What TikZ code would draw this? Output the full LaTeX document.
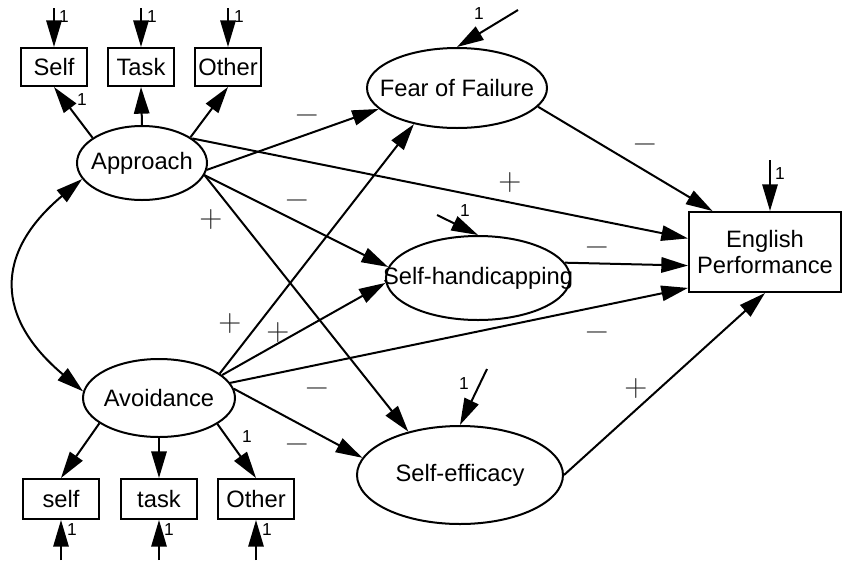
\documentclass[tikz,border=0pt]{standalone}
\usepackage{fontspec}
\setmainfont{Liberation Sans}
\newfontfamily\signfont{Latin Modern Roman}
\usetikzlibrary{arrows.meta,shapes.geometric,calc}
\begin{document}
\begin{tikzpicture}[x=0.75pt,y=-0.75pt,
  >={Triangle[length=20pt,width=11.5pt]},
  every node/.style={font=\fontsize{17.8}{19}\selectfont},
  con/.style={line width=1.5pt, ->},
  obs/.style={draw, line width=1.5pt, rectangle, inner sep=0pt, minimum width=49.5pt, minimum height=28.5pt},
  obsb/.style={obs, minimum width=57pt, minimum height=30pt},
  lat/.style={draw, line width=1.5pt, ellipse, inner sep=0pt},
  one/.style={font=\fontsize{13}{15}\selectfont, inner sep=0pt},
  sgn/.style={font=\signfont\fontsize{24}{24}\selectfont, inner sep=0pt, anchor=base, yshift=-6pt, text=black!85}
]
\useasboundingbox (0,0) rectangle (843,565);

% observed indicators
\node[obs] (s1) at (54,67) {Self};
\node[obs] (t1) at (141,67) {Task};
\node[obs] (o1) at (228,67) {Other};
\node[obsb] (s2) at (61,499) {self};
\node[obsb] (t2) at (159,499) {task};
\node[obsb] (o2) at (256,499) {Other};
\node[draw, line width=1.5pt, minimum width=114pt, minimum height=60pt, align=center, inner sep=0pt] (eng) at (765,252) {English\\Performance};

% latent variables
\node[lat, minimum width=97.5pt, minimum height=55.5pt] (app) at (142,163) {\makebox[0pt]{Approach}};
\node[lat, minimum width=114pt, minimum height=58.5pt] (av) at (159,398) {\makebox[0pt]{Avoidance}};
\node[lat, minimum width=135pt, minimum height=60pt] (fear) at (457,88) {\makebox[0pt]{Fear of Failure}};
\node[lat, minimum width=138pt, minimum height=63pt] (sh) at (478,278) {\makebox[0pt]{Self-handicapping}};
\node[lat, minimum width=154.5pt, minimum height=73.5pt] (se) at (460,475) {\makebox[0pt]{Self-efficacy}};

% measurement paths
\draw[con] (app.153) -- (s1.south);
\draw[con] (app.north) -- (t1.south);
\draw[con] (app.28) -- (o1.south);
\draw[con] (av.203) -- (s2.north);
\draw[con] (av.south) -- (t2.north);
\draw[con] (av.336) -- (o2.north);

% structural paths
\draw[con] (app.354) -- (fear.195);
\draw[con] (app.26) -- (eng.170);
\draw[con] (app.349) -- (sh.173);
\draw[con] (app.349) -- (se.140);
\draw[con] (av.22) -- (fear.220);
\draw[con] (av.20) -- (sh.183);
\draw[con] (av.12) -- (eng.205);
\draw[con] (av.7) -- (se.170);
\draw[con] (fear.347) -- (eng.142);
\draw[con] (sh.10) -- (eng.190);
\draw[con] (se.east) -- (eng.south);

% covariance
\draw[line width=1.5pt, <->] (app.195) .. controls +(-88,74) and +(-88,-74) .. (av.175);

% error terms
\coordinate (e1) at (54,8);
\coordinate (e2) at (141,8);
\coordinate (e3) at (228,8);
\coordinate (e4) at (61,560);
\coordinate (e5) at (159,560);
\coordinate (e6) at (256,560);
\coordinate (ef) at (518,10);
\coordinate (eh) at (437,215);
\coordinate (es) at (487,369);
\coordinate (ee) at (770,160);
\draw[con] (e1) -- (s1.north);
\draw[con] (e2) -- (t1.north);
\draw[con] (e3) -- (o1.north);
\draw[con] (e4) -- (s2.south);
\draw[con] (e5) -- (t2.south);
\draw[con] (e6) -- (o2.south);
\draw[con] (ef) -- (fear.north);
\draw[con] (eh) -- (sh.north);
\draw[con] (es) -- (se.north);
\draw[con] (ee) -- (ee |- eng.north);

% "1" labels
\node[one] (l1) at (64,17) {1};
\node[one] (l2) at (152,17) {1};
\node[one] (l3) at (239,17) {1};
\node[one] (l4) at (82,100) {1};
\node[one] (l5) at (479,14) {1};
\node[one] (l6) at (465,211) {1};
\node[one] (l7) at (464,384) {1};
\node[one] (l8) at (780,174) {1};
\node[one] (l9) at (72,530) {1};
\node[one] (l10) at (169,530) {1};
\node[one] (l11) at (267,530) {1};
\node[one] (l12) at (247,437) {1};

% signs
\node[sgn] (m1) at (307,115) {−};
\node[sgn] (m2) at (297,200) {−};
\node[sgn] (m3) at (645,144) {−};
\node[sgn] (m4) at (597,247) {−};
\node[sgn] (m5) at (597,332) {−};
\node[sgn] (m6) at (317,388) {−};
\node[sgn] (m7) at (297,444) {−};
\node[sgn] (p1) at (211,219) {+};
\node[sgn] (p2) at (510,182) {+};
\node[sgn] (p3) at (230,323) {+};
\node[sgn] (p4) at (278,332) {+};
\node[sgn] (p5) at (636,388) {+};
\end{tikzpicture}
\end{document}
